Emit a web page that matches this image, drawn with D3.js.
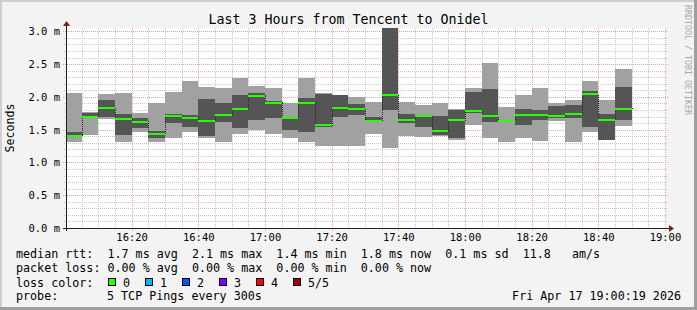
<!DOCTYPE html>
<html>
<head>
<meta charset="utf-8">
<script src="https://cdn.jsdelivr.net/npm/d3@7"></script>
<style>
  body { margin: 0; background: #f3f3f3; }
  svg text { font-family: "DejaVu Sans Mono", monospace; }
</style>
</head>
<body>
<svg id="chart" width="697" height="310"></svg>
<script>
// end of each 5 minute step (HH:MM)
var barEnds = ["16:05","16:10","16:15","16:20","16:25","16:30","16:35","16:40","16:45","16:50",
               "16:55","17:00","17:05","17:10","17:15","17:20","17:25","17:30","17:35","17:40",
               "17:45","17:50","17:55","18:00","18:05","18:10","18:15","18:20","18:25","18:30",
               "18:35","18:40","18:45","18:50"];
// ping rtt in ms, sorted pings: max, 4th, median, 2nd, min
var pingMax = [2.06,1.77,2.04,2.06,1.75,1.90,2.075,2.24,2.15,2.13,2.29,2.16,2.14,1.90,2.29,2.065,2.035,2.0,1.92,3.4,
               1.92,1.873,1.90,1.81,2.14,2.51,1.84,2.035,2.13,1.90,1.955,2.24,1.95,2.43];
var ping4   = [1.467,1.76,1.95,1.74,1.68,1.477,1.74,1.72,1.965,1.90,2.035,2.065,1.935,1.69,1.985,2.05,2.025,1.89,1.695,3.2,
               1.745,1.72,1.71,1.797,2.075,2.12,1.645,1.82,1.797,1.858,1.873,2.086,1.745,2.147];
var pingMed = [1.405,1.69,1.83,1.665,1.62,1.435,1.71,1.68,1.63,1.72,1.81,2.015,1.91,1.68,1.91,1.57,1.83,1.81,1.635,2.025,
               1.645,1.71,1.477,1.645,1.78,1.705,1.63,1.72,1.72,1.705,1.74,2.045,1.65,1.817];
var ping2   = [1.39,1.67,1.70,1.416,1.53,1.375,1.60,1.54,1.405,1.62,1.53,1.645,1.68,1.50,1.457,1.54,1.70,1.73,1.61,1.797,
               1.594,1.543,1.416,1.366,1.76,1.62,1.61,1.57,1.645,1.68,1.67,1.543,1.34,1.645];
var pingMin = [1.305,1.416,1.66,1.305,1.47,1.305,1.375,1.467,1.366,1.305,1.43,1.49,1.43,1.37,1.305,1.253,1.253,1.253,1.437,1.223,
               1.40,1.39,1.40,1.34,1.57,1.375,1.305,1.375,1.325,1.63,1.305,1.457,1.34,1.558];

var xTickLabels = ["16:20","16:40","17:00","17:20","17:40","18:00","18:20","18:40","19:00"];
var yTickValues = [0, 0.5, 1.0, 1.5, 2.0, 2.5, 3.0];

var lossLabels = ["0","1","2","3","4","5/5"];
var lossColors = ["#26ff00","#00b8ff","#0059ff","#7e00ff","#ff0000","#a10000"];

var legendRows = [
  "median rtt:  1.7 ms avg  2.1 ms max  1.4 ms min  1.8 ms now  0.1 ms sd  11.8   am/s",
  "packet loss: 0.00 % avg  0.00 % max  0.00 % min  0.00 % now"
];

var title = "Last 3 Hours from Tencent to Onidel";
var stamp = "Fri Apr 17 19:00:19 2026";

function hm(s) {
  var p = s.split(":");
  return new Date(2026, 3, 17, +p[0], +p[1], 0);
}

var t0 = new Date(2026, 3, 17, 16, 0, 19),
    t1 = new Date(2026, 3, 17, 19, 0, 19);

var pLeft = 66, pRight = 666, pTop = 28, pBottom = 228;

var x = d3.scaleTime().domain([t0, t1]).range([pLeft, pRight]);
var y = d3.scaleLinear().domain([0, 3.05]).range([pBottom, pTop]);

var svg = d3.select("#chart");

// background + frame
svg.append("rect").attr("width", 697).attr("height", 310).attr("fill", "#f3f3f3");
svg.append("rect").attr("x", 0).attr("y", 0).attr("width", 697).attr("height", 2).attr("fill", "#cfcfcf");
svg.append("rect").attr("x", 0).attr("y", 0).attr("width", 2).attr("height", 310).attr("fill", "#cfcfcf");
svg.append("rect").attr("x", 0).attr("y", 307).attr("width", 697).attr("height", 3).attr("fill", "#9e9e9e");
svg.append("rect").attr("x", 694).attr("y", 0).attr("width", 3).attr("height", 310).attr("fill", "#9e9e9e");

// canvas
svg.append("rect")
  .attr("x", pLeft).attr("y", pTop)
  .attr("width", pRight - pLeft).attr("height", pBottom - pTop)
  .attr("fill", "#fff");

svg.append("defs").append("clipPath").attr("id", "plot")
  .append("rect")
  .attr("x", pLeft).attr("y", pTop)
  .attr("width", pRight - pLeft).attr("height", pBottom - pTop);

// grid
var grid = svg.append("g").attr("shape-rendering", "crispEdges");

var minorX = d3.timeMinute.every(5).range(t0, t1).filter(function(d) { return d.getMinutes() % 20 != 0; });
var majorX = d3.timeMinute.every(20).range(t0, d3.timeSecond.offset(t1, 1));
var minorY = d3.range(1, 31).map(function(i) { return i / 10; }).filter(function(d) { return Math.round(d * 10) % 5 != 0; });
var majorY = yTickValues;

grid.selectAll(".mx").data(minorX).enter().append("line")
  .attr("x1", function(d) { return Math.round(x(d)) + 0.5; })
  .attr("x2", function(d) { return Math.round(x(d)) + 0.5; })
  .attr("y1", pTop).attr("y2", pBottom + 2)
  .attr("stroke", "#c6c6c6").attr("stroke-dasharray", "1,1");

grid.selectAll(".my").data(minorY).enter().append("line")
  .attr("x1", pLeft - 2).attr("x2", pRight + 2)
  .attr("y1", function(d) { return Math.round(y(d)) + 0.5; })
  .attr("y2", function(d) { return Math.round(y(d)) + 0.5; })
  .attr("stroke", "#c6c6c6").attr("stroke-dasharray", "1,1");

grid.selectAll(".Mx").data(majorX).enter().append("line")
  .attr("x1", function(d) { return Math.round(x(d)) + 0.5; })
  .attr("x2", function(d) { return Math.round(x(d)) + 0.5; })
  .attr("y1", pTop).attr("y2", pBottom + 3)
  .attr("stroke", "#efa4a4").attr("stroke-dasharray", "1,1");

grid.selectAll(".My").data(majorY).enter().append("line")
  .attr("x1", pLeft - 3).attr("x2", pRight + 3)
  .attr("y1", function(d) { return Math.round(y(d)) + 0.5; })
  .attr("y2", function(d) { return Math.round(y(d)) + 0.5; })
  .attr("stroke", "#efa4a4").attr("stroke-dasharray", "1,1");

// smoke bars
var bars = barEnds.map(function(e, i) {
  var end = hm(e);
  return { start: d3.timeMinute.offset(end, -5), end: end,
           max: pingMax[i], p4: ping4[i], med: pingMed[i], p2: ping2[i], min: pingMin[i] };
});

var plot = svg.append("g").attr("clip-path", "url(#plot)").attr("shape-rendering", "crispEdges");

plot.selectAll(".outer").data(bars).enter().append("rect")
  .attr("x", function(d) { return x(d.start); })
  .attr("width", function(d) { return x(d.end) - x(d.start); })
  .attr("y", function(d) { return y(d.max); })
  .attr("height", function(d) { return y(d.min) - y(d.max); })
  .attr("fill", "#a1a1a1");

plot.selectAll(".inner").data(bars).enter().append("rect")
  .attr("x", function(d) { return x(d.start); })
  .attr("width", function(d) { return x(d.end) - x(d.start); })
  .attr("y", function(d) { return y(d.p4); })
  .attr("height", function(d) { return y(d.p2) - y(d.p4); })
  .attr("fill", "#555555");

// median step line
var stepPts = [];
bars.forEach(function(d) { stepPts.push([d.start, d.med]); stepPts.push([d.end, d.med]); });
plot.append("path")
  .datum(stepPts)
  .attr("d", d3.line().x(function(d) { return Math.round(x(d[0])) + 0.5; }).y(function(d) { return y(d[1]); }))
  .attr("fill", "none").attr("stroke", "#202020").attr("stroke-width", 1)
  .attr("stroke-dasharray", "1,1");

plot.selectAll(".med").data(bars).enter().append("rect")
  .attr("x", function(d) { return x(d.start); })
  .attr("width", function(d) { return x(d.end) - x(d.start); })
  .attr("y", function(d) { return y(d.med) - 1; })
  .attr("height", 2)
  .attr("fill", lossColors[0]);

// axes lines + arrows
var axisG = svg.append("g").attr("shape-rendering", "crispEdges");
axisG.append("line").attr("x1", pLeft - 3).attr("x2", pRight + 5).attr("y1", pBottom + 0.5).attr("y2", pBottom + 0.5)
  .attr("stroke", "#1f1f1f");
axisG.append("line").attr("x1", pLeft + 0.5).attr("x2", pLeft + 0.5).attr("y1", pBottom + 3).attr("y2", pTop - 4)
  .attr("stroke", "#1f1f1f");
svg.append("path")
  .attr("d", "M" + (pRight + 3) + "," + (pBottom - 3) + "L" + (pRight + 8) + "," + (pBottom + 0.5) + "L" + (pRight + 3) + "," + (pBottom + 4) + "Z")
  .attr("fill", "#7f1f1f");
svg.append("path")
  .attr("d", "M" + (pLeft - 3) + "," + (pTop - 2) + "L" + (pLeft + 0.5) + "," + (pTop - 7) + "L" + (pLeft + 4) + "," + (pTop - 2) + "Z")
  .attr("fill", "#7f1f1f");

// tick labels
var xAxis = d3.axisBottom(x)
  .tickValues(xTickLabels.map(hm))
  .tickFormat(d3.timeFormat("%H:%M"))
  .tickSize(0).tickPadding(6);
var yAxis = d3.axisLeft(y)
  .tickValues(yTickValues)
  .tickFormat(function(d) { return d3.format(".1f")(d) + " m"; })
  .tickSize(0).tickPadding(6);

var gx = svg.append("g").attr("transform", "translate(0," + pBottom + ")").call(xAxis);
var gy = svg.append("g").attr("transform", "translate(" + pLeft + ",0)").call(yAxis);
[gx, gy].forEach(function(g) {
  g.select(".domain").remove();
  g.selectAll("text").attr("font-family", "DejaVu Sans Mono").attr("font-size", "10.5px").attr("fill", "#000");
});

// title and labels
svg.append("text").attr("x", 348.5).attr("y", 24).attr("text-anchor", "middle")
  .attr("font-size", "13.3px").text(title);

svg.append("text").attr("transform", "translate(14,128) rotate(-90)").attr("text-anchor", "middle")
  .attr("font-size", "11.6px").text("Seconds");

svg.append("text").attr("transform", "translate(685,5) rotate(90)")
  .attr("font-size", "8.3px").attr("fill", "#a8a8a8").text("RRDTOOL / TOBI OETIKER");

// legend
var lg = svg.append("g").attr("font-size", "11.7px");
legendRows.forEach(function(r, i) {
  lg.append("text").attr("x", 16).attr("y", 258 + i * 14).attr("xml:space", "preserve")
    .style("white-space", "pre").text(r);
});
lg.append("text").attr("x", 16).attr("y", 286.5).text("loss color:");
lossLabels.forEach(function(l, i) {
  var bx = 108 + i * 37;
  lg.append("rect").attr("x", bx + 0.5).attr("y", 278.5).attr("width", 7).attr("height", 7)
    .attr("fill", lossColors[i]).attr("stroke", "#000").attr("shape-rendering", "crispEdges");
  lg.append("text").attr("x", bx + 15).attr("y", 286.5).text(l);
});
lg.append("text").attr("x", 16).attr("y", 300).text("probe:");
lg.append("text").attr("x", 107).attr("y", 300).text("5 TCP Pings every 300s");
lg.append("text").attr("x", 681).attr("y", 300).attr("text-anchor", "end").text(stamp);
</script>
</body>
</html>
